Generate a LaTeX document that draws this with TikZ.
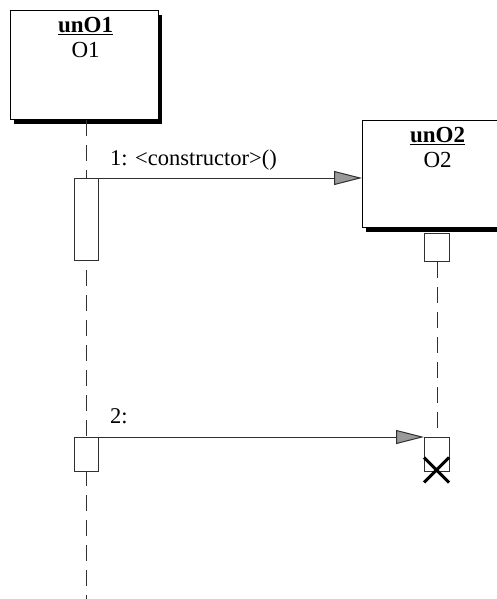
\documentclass[tikz,border=0pt]{standalone}
\usepackage{fontspec}
\setmainfont{Liberation Serif}
\usetikzlibrary{arrows.meta, positioning, shadows, shapes.misc}
\definecolor{ink}{HTML}{303030}

\tikzset{
  objbox/.style={draw=black, line width=1.3pt, fill=white, inner sep=0pt, anchor=north west,
    drop shadow={shadow xshift=3.5pt, shadow yshift=-4pt, fill=black, opacity=1}},
  actbar/.style={draw=ink, line width=1pt, fill=white, inner sep=0pt, anchor=north west},
  lifeline/.style={draw=ink, line width=1pt, dash pattern=on 16pt off 9pt},
  msg/.style={draw=ink, line width=1pt, -{Triangle[length=28pt, width=14pt, fill=gray!80]}},
  objname/.style={font=\fontsize{23}{25}\selectfont, align=center, anchor=north, inner sep=0pt},
  msglabel/.style={font=\fontsize{22.5}{24}\selectfont, anchor=base west, inner sep=0pt}
}

\begin{document}
\begin{tikzpicture}[x=1pt, y=-1pt]
    \useasboundingbox[fill=white] (0,0) rectangle (497,599);
    % objects
    \node[objbox, minimum width=148pt, minimum height=109pt] (o1) at (10,10) {};
    \node[objbox, minimum width=150pt, minimum height=107pt] (o2) at (362,120) {};
    \node[objname] (o1name) at ([xshift=1pt, yshift=-7pt]o1.north) {\underline{\textbf{unO1}}\\O1};
    \node[objname] (o2name) at ([xshift=0pt, yshift=-7pt]o2.north) {\underline{\textbf{unO2}}\\O2};
    % lifelines
    \coordinate (o1end) at (86,599);
    \draw[lifeline] (o1.south -| o1end) -- (o1end);
    \node[actbar, minimum width=25pt, minimum height=28pt] (b1) at (424,233) {};
    \node[actbar, minimum width=25pt, minimum height=34pt] (b2) at (424,437) {};
    \draw[lifeline] (b1.south) -- (b2.north);
    % activations
    \node[actbar, minimum width=24pt, minimum height=82pt] (a1) at (74,178) {};
    \node[actbar, minimum width=24pt, minimum height=34pt] (a2) at (74,437) {};
    % messages
    \draw[msg] (a1.north east) -- (a1.north east -| o2.west);
    \node[msglabel] (m1) at (110,165) {1: <constructor>()};
    \draw[msg] (a2.north east) -- (b2.north west);
    \node[msglabel] (m2) at (110,423) {2:};
    % destruction
    \node[cross out, draw=black, line width=3pt, inner sep=0pt, minimum size=22pt] (kill) at (436.5,470) {};
\end{tikzpicture}
\end{document}
